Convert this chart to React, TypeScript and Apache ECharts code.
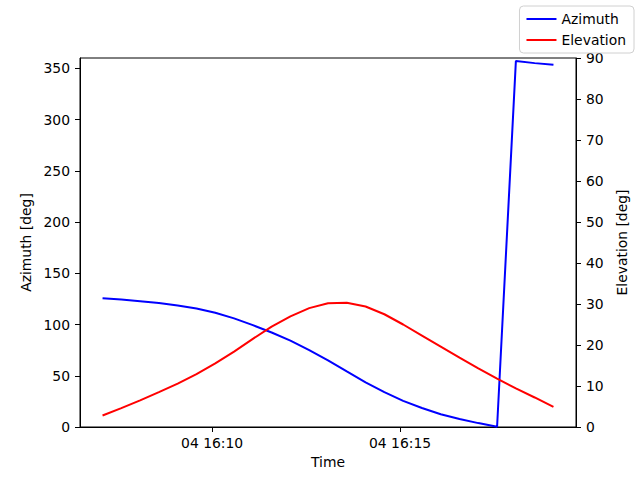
import React, { useEffect, useRef } from "react";
import * as echarts from "echarts";

// Sample times: 30 s steps starting at 04 16:07:05 (UTC)
const startTime = Date.UTC(2024, 0, 4, 16, 7, 5);
const stepMs = 30000;
const azimuth = [
  125.6, 124.3, 122.8, 121.0, 118.6, 115.6, 111.4, 106.0, 99.4, 92.2,
  84.3, 75.0, 65.0, 54.2, 43.5, 34.0, 25.5, 18.5, 12.5, 7.8,
  3.8, 0.3, 357.0, 355.0, 353.3,
];
const elevation = [
  2.8, 4.6, 6.5, 8.5, 10.6, 12.9, 15.5, 18.4, 21.5, 24.5,
  27.0, 29.0, 30.2, 30.3, 29.4, 27.5, 25.0, 22.3, 19.6, 16.9,
  14.3, 11.8, 9.4, 7.2, 4.9,
];
const xTickTimes = [Date.UTC(2024, 0, 4, 16, 10, 0), Date.UTC(2024, 0, 4, 16, 15, 0)];
const leftTicks = [0, 50, 100, 150, 200, 250, 300, 350];
const rightTicks = [0, 10, 20, 30, 40, 50, 60, 70, 80, 90];

const FONT = "DejaVu Sans";

function pad2(n: number) {
  return n < 10 ? "0" + n : String(n);
}
function fmtTime(v: number) {
  const d = new Date(v);
  return pad2(d.getUTCDate()) + " " + pad2(d.getUTCHours()) + ":" + pad2(d.getUTCMinutes());
}

export default function App() {
  const ref = useRef<HTMLDivElement>(null);
  useEffect(() => {
    if (!ref.current) return;
    const chart = echarts.init(ref.current, null, { renderer: "svg" });
    const times = azimuth.map((_, i) => startTime + i * stepMs);
    const tEnd = times[times.length - 1];
    const span = tEnd - startTime;
    const xMin = startTime - span * 0.05;
    const xMax = tEnd + span * 0.05;
    const axisLabelStyle = { color: "#000", fontFamily: FONT, fontSize: 13.9 };
    chart.setOption({
      animation: false,
      backgroundColor: "#fff",
      textStyle: { fontFamily: FONT },
      grid: {
        left: 80,
        right: 64,
        top: 58,
        bottom: 53,
        show: true,
        borderColor: "#000",
        borderWidth: 1,
        containLabel: false,
      },
      legend: {
        orient: "vertical",
        right: 6,
        top: 6,
        itemWidth: 30,
        itemHeight: 2,
        itemGap: 7,
        padding: [6, 8, 6, 6],
        backgroundColor: "#fff",
        borderColor: "#d0d0d0",
        borderWidth: 1,
        borderRadius: 4,
        textStyle: { color: "#000", fontFamily: FONT, fontSize: 13.9 },
        data: ["Azimuth", "Elevation"],
      },
      xAxis: {
        type: "value",
        min: xMin,
        max: xMax,
        name: "Time",
        nameLocation: "middle",
        nameGap: 28,
        nameTextStyle: { color: "#000", fontFamily: FONT, fontSize: 13.9 },
        axisLine: { show: true, onZero: false, lineStyle: { color: "#000", width: 1 } },
        axisTick: { show: true, inside: false, length: 5, lineStyle: { color: "#000" }, customValues: xTickTimes },
        axisLabel: { ...axisLabelStyle, margin: 9, formatter: (v: number) => fmtTime(v), customValues: xTickTimes },
        splitLine: { show: false },
      },
      yAxis: [
        {
          type: "value",
          min: 0,
          max: 360,
          position: "left",
          name: "Azimuth [deg]",
          nameLocation: "middle",
          nameGap: 43,
          nameTextStyle: { color: "#000", fontFamily: FONT, fontSize: 13.9 },
          axisLine: { show: true, lineStyle: { color: "#000", width: 1 } },
          axisTick: { show: true, length: 5, lineStyle: { color: "#000" }, customValues: leftTicks },
          axisLabel: { ...axisLabelStyle, margin: 10, customValues: leftTicks },
          splitLine: { show: false },
        },
        {
          type: "value",
          min: 0,
          max: 90,
          position: "right",
          name: "Elevation [deg]",
          nameLocation: "middle",
          nameGap: 33,
          nameTextStyle: { color: "#000", fontFamily: FONT, fontSize: 13.9 },
          axisLine: { show: true, lineStyle: { color: "#000", width: 1 } },
          axisTick: { show: true, length: 5, lineStyle: { color: "#000" }, customValues: rightTicks },
          axisLabel: { ...axisLabelStyle, margin: 10, customValues: rightTicks },
          splitLine: { show: false },
        },
      ],
      series: [
        {
          name: "Azimuth",
          type: "line",
          yAxisIndex: 0,
          symbol: "none",
          color: "#0000ff",
          lineStyle: { color: "#0000ff", width: 2 },
          data: times.map((t, i) => [t, azimuth[i]]),
        },
        {
          name: "Elevation",
          type: "line",
          yAxisIndex: 1,
          symbol: "none",
          color: "#ff0000",
          lineStyle: { color: "#ff0000", width: 2 },
          data: times.map((t, i) => [t, elevation[i]]),
        },
      ],
    });
    return () => chart.dispose();
  }, []);
  return (
    <div
      ref={ref}
      style={{ position: "fixed", left: 0, top: 0, width: 640, height: 480 }}
    />
  );
}
